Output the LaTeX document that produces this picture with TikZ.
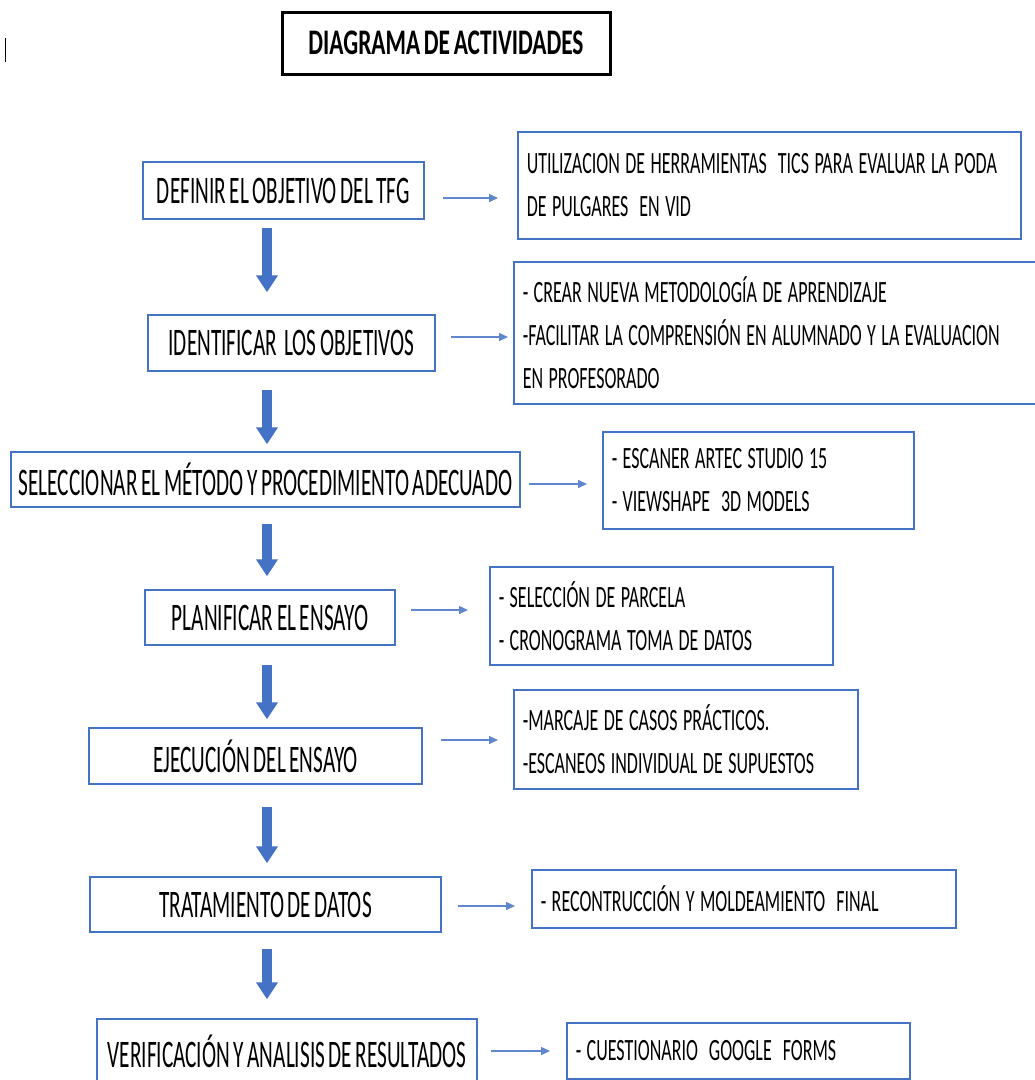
\documentclass[tikz,border=0pt]{standalone}
\usepackage{fontspec}
\setmainfont{Carlito}
\newfontfamily\stepfont[FakeStretch=0.545, WordSpace=0.75]{Carlito}
\newfontfamily\notefont[FakeStretch=0.58, WordSpace=1.35]{Carlito}
\newfontfamily\headfont[FakeStretch=0.65, WordSpace=0.7]{Carlito}
\usetikzlibrary{arrows.meta,positioning}

\definecolor{accblue}{HTML}{4472C4}

\tikzset{
  stepbox/.style={draw=accblue, line width=1.5pt, inner sep=0pt,
    font={\stepfont\fontsize{39}{44}\selectfont}},
  notebox/.style={draw=accblue, line width=1.5pt, anchor=north west,
    inner xsep=9pt, inner ysep=0pt, align=flush left,
    font={\notefont\fontsize{31}{43}\selectfont}},
  headbox/.style={draw=black, line width=3pt, minimum width=328pt, minimum height=62pt,
    font={\headfont\bfseries\fontsize{36}{40}\selectfont}},
  flow/.style={accblue, line width=10pt, -{Triangle[length=17pt,width=21pt]}},
  link/.style={accblue!85, line width=1.5pt, -{Triangle[length=9pt,width=8pt]}}
}

\begin{document}
\begin{tikzpicture}[x=1pt, y=-1pt]
    \useasboundingbox (0,0) rectangle (1035,1080);
    \clip (0,0) rectangle (1035,1080);

    \draw [line width=1pt] (5,38) -- (5,62);
    \node [headbox] (title) at (446,43) {DIAGRAMA DE ACTIVIDADES};

% steps
\node [stepbox, minimum width=281pt, minimum height=57pt] (def) at (283.5,190.5) {DEFINIR EL OBJETIVO DEL TFG};
\node [stepbox, minimum width=287pt, minimum height=56pt] (ident) at (291.5,343) {IDENTIFICAR\ \ LOS OBJETIVOS};
\node [stepbox, minimum width=509pt, minimum height=55pt] (selec) at (265.5,479.5) {SELECCIONAR EL MÉTODO Y PROCEDIMIENTO ADECUADO};
\node [stepbox, minimum width=250pt, minimum height=55pt] (plan) at (270,617.5) {PLANIFICAR EL ENSAYO};
\node [stepbox, minimum width=333pt, minimum height=56pt] (ejec) at (255.5,756) {EJECUCIÓN DEL ENSAYO};
\node [stepbox, minimum width=351pt, minimum height=55pt] (trat) at (265.5,904.5) {TRATAMIENTO DE DATOS};
\node [stepbox, minimum width=380pt, minimum height=64pt] (verif) at (287,1051) {VERIFICACIÓN Y ANALISIS DE RESULTADOS};

% notes
\node [notebox, text width=485pt, minimum height=107pt] (util) at (517,131)
  {UTILIZACION DE HERRAMIENTAS\ \ TICS PARA EVALUAR LA PODA\\ DE PULGARES\ \ EN VID};
\node [notebox, text width=512pt, minimum height=142pt] (metod) at (513,261)
  {- CREAR NUEVA METODOLOGÍA DE APRENDIZAJE\\ -FACILITAR LA COMPRENSIÓN EN ALUMNADO Y LA EVALUACION\\ EN PROFESORADO};
\node [notebox, text width=293pt, minimum height=97pt] (escan) at (602,431)
  {- ESCANER ARTEC STUDIO 15\\ - VIEWSHAPE\ \ 3D MODELS};
\node [notebox, text width=325pt, minimum height=98pt] (parc) at (489,566)
  {- SELECCIÓN DE PARCELA\\ - CRONOGRAMA TOMA DE DATOS};
\node [notebox, text width=326pt, minimum height=99pt] (marc) at (513,689)
  {-MARCAJE DE CASOS PRÁCTICOS.\\ -ESCANEOS INDIVIDUAL DE SUPUESTOS};
\node [notebox, text width=406pt, minimum height=58pt] (recon) at (531,869)
  {- RECONTRUCCIÓN Y MOLDEAMIENTO\ \ FINAL};
\node [notebox, text width=325pt, minimum height=56pt] (cuest) at (566,1022)
  {- CUESTIONARIO\ \ GOOGLE\ \ FORMS};

% big arrows down
\coordinate (axis) at (267,0);
\draw [flow, shorten <=8pt, shorten >=22pt] (def.south -| axis) -- (ident.north -| axis);
\draw [flow, shorten <=18pt, shorten >=7pt] (ident.south -| axis) -- (selec.north -| axis);
\draw [flow, shorten <=16pt, shorten >=13pt] (selec.south -| axis) -- (plan.north -| axis);
\draw [flow, shorten <=19pt, shorten >=8pt] (plan.south -| axis) -- (ejec.north -| axis);
\draw [flow, shorten <=22pt, shorten >=13pt] (ejec.south -| axis) -- (trat.north -| axis);
\draw [flow, shorten <=16pt, shorten >=19pt] (trat.south -| axis) -- (verif.north -| axis);

% small arrows right
\draw [link, shorten <=18pt, shorten >=19pt] ([yshift=-7.5pt]def.east) -- ([yshift=-7.5pt]def.east -| util.west);
\draw [link, shorten <=15pt, shorten >=5pt] ([yshift=6pt]ident.east) -- ([yshift=6pt]ident.east -| metod.west);
\draw [link, shorten <=8pt, shorten >=15pt] ([yshift=-4.5pt]selec.east) -- ([yshift=-4.5pt]selec.east -| escan.west);
\draw [link, shorten <=15pt, shorten >=21pt] ([yshift=7.5pt]plan.east) -- ([yshift=7.5pt]plan.east -| parc.west);
\draw [link, shorten <=18pt, shorten >=15pt] ([yshift=16pt]ejec.east) -- ([yshift=16pt]ejec.east -| marc.west);
\draw [link, shorten <=16pt, shorten >=16pt] ([yshift=-1.5pt]trat.east) -- ([yshift=-1.5pt]trat.east -| recon.west);
\draw [link, shorten <=13pt, shorten >=16pt] (verif.east) -- (verif.east -| cuest.west);
\end{tikzpicture}
\end{document}
